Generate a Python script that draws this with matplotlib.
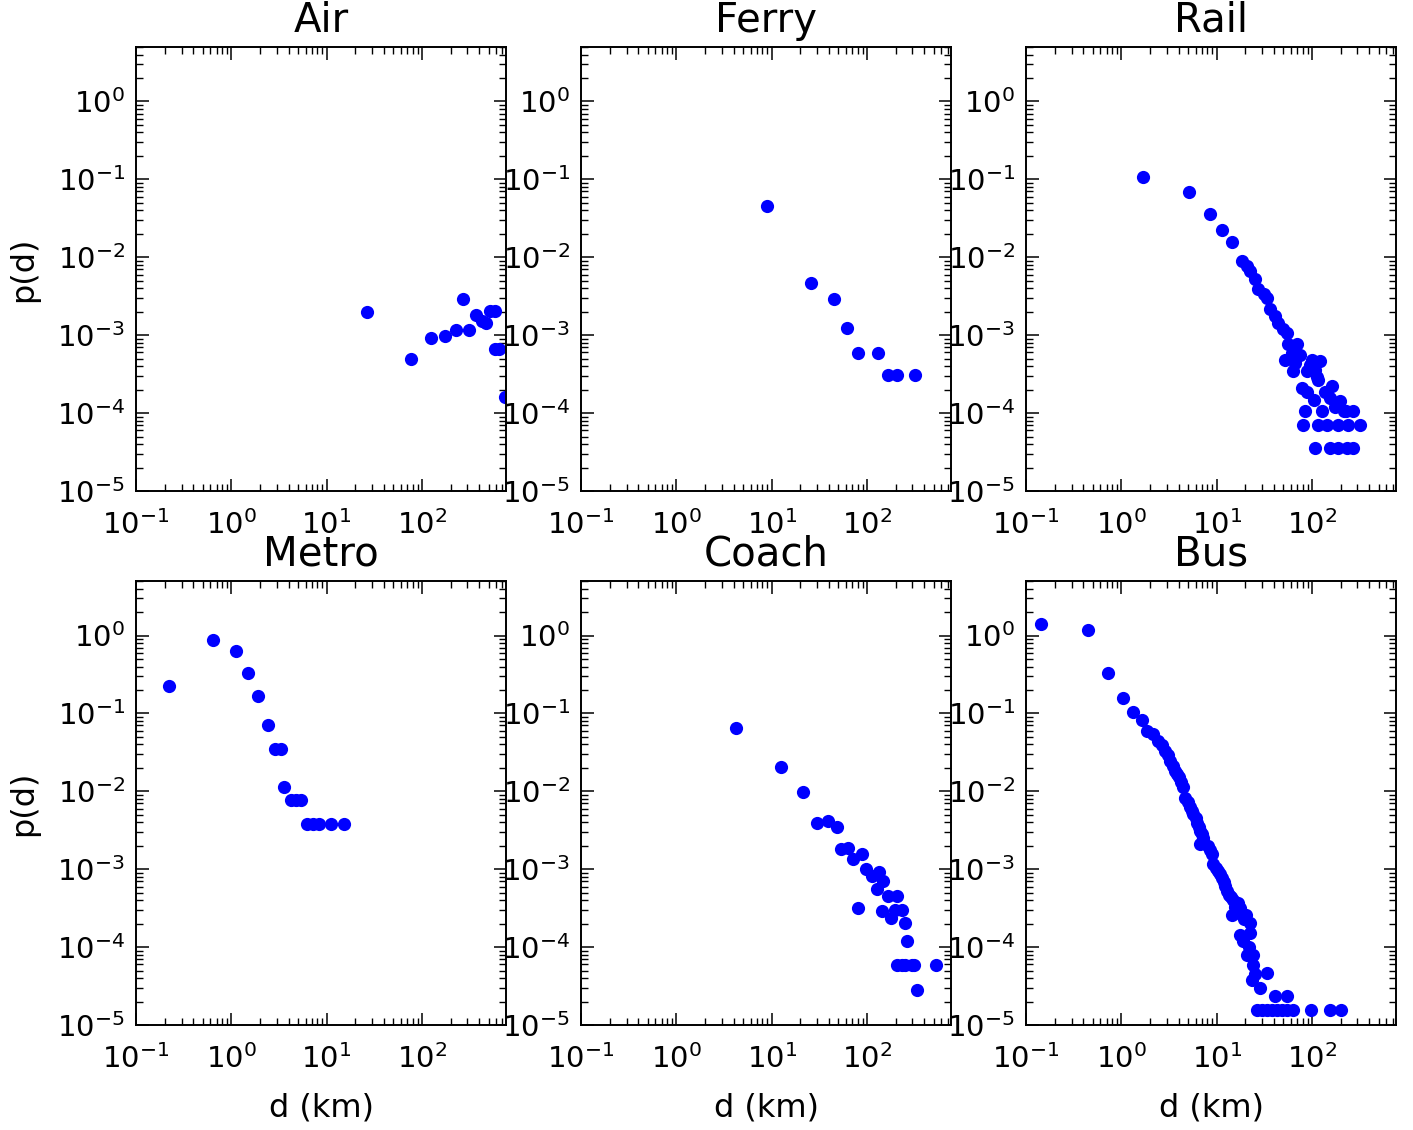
import matplotlib
matplotlib.use('Agg')
import matplotlib.pyplot as plt
from matplotlib.ticker import LogLocator

# distance distributions per mode (d in km, p(d))
air_d = [26.7, 76.9, 124, 175, 226, 272, 314, 366, 424, 471, 519, 585, 585, 649, 740]
air_p = [2.0e-3, 5.0e-4, 9.1e-4, 9.75e-4, 1.15e-3, 2.89e-3, 1.15e-3, 1.8e-3, 1.52e-3, 1.45e-3,
         2.05e-3, 2.05e-3, 6.7e-4, 6.7e-4, 1.6e-4]

ferry_d = [8.87, 26.1, 45.2, 61.4, 80.7, 132, 168, 207, 320]
ferry_p = [0.0461, 4.66e-3, 2.89e-3, 1.24e-3, 5.94e-4, 5.94e-4, 3.06e-4, 3.06e-4, 3.06e-4]

rail_d = [1.70, 5.06, 8.53, 11.3, 14.6, 18.3, 20.7, 22.4, 25.3, 27.4, 31.0, 33.5, 36.3, 41.0, 44.4,
          50.1, 54.3, 56.5, 69.2, 61.4, 75.0, 52.1, 66.4, 62.8, 99.5, 122, 88.3, 108, 117, 78.2,
          88.3, 104, 161, 137, 155, 197, 84.5, 126, 272, 230, 80.0, 117, 143, 189, 241, 320,
          108, 155, 189, 231, 272, 95.0, 112, 175, 215]
rail_p = [0.107, 0.0698, 0.0364, 0.0224, 0.0156, 9.0e-3, 7.8e-3, 6.7e-3, 5.24e-3, 3.89e-3, 3.4e-3,
          3.04e-3, 2.15e-3, 1.76e-3, 1.44e-3, 1.19e-3, 1.07e-3, 7.6e-4, 7.8e-4, 5.9e-4, 5.6e-4,
          4.85e-4, 4.4e-4, 3.43e-4, 4.85e-4, 4.6e-4, 3.43e-4, 3.6e-4, 2.68e-4, 2.09e-4, 1.89e-4,
          1.48e-4, 2.21e-4, 1.89e-4, 1.56e-4, 1.41e-4, 1.05e-4, 1.05e-4, 1.05e-4, 1.05e-4, 7.1e-5,
          7.1e-5, 7.1e-5, 7.1e-5, 7.1e-5, 7.1e-5, 3.55e-5, 3.55e-5, 3.55e-5, 3.55e-5, 3.55e-5,
          4.2e-4, 2.9e-4, 1.2e-4, 1.05e-4]

metro_d = [0.222, 0.647, 1.11, 1.49, 1.92, 2.44, 2.88, 3.33, 3.57, 4.2, 4.74, 5.35, 6.18, 7.14,
           8.26, 11.2, 15.2]
metro_p = [0.224, 0.871, 0.634, 0.33, 0.169, 0.072, 0.035, 0.035, 0.0112, 7.7e-3, 7.7e-3, 7.7e-3,
           3.77e-3, 3.77e-3, 3.77e-3, 3.77e-3, 3.77e-3]

coach_d = [4.27, 12.6, 21.5, 29.7, 38.8, 48.2, 53.8, 62.8, 72.0, 89.5, 80.0, 97.0, 112, 134, 126,
           149, 168, 205, 143, 179, 197, 231, 251, 261, 205, 231, 251, 294, 309, 527, 338]
coach_p = [0.0646, 0.0203, 9.9e-3, 3.97e-3, 4.18e-3, 3.49e-3, 1.84e-3, 1.89e-3, 1.34e-3, 1.55e-3,
           3.19e-4, 1.0e-3, 8.2e-4, 9.1e-4, 5.5e-4, 7.0e-4, 4.5e-4, 4.5e-4, 2.88e-4, 2.37e-4,
           3.03e-4, 3.03e-4, 2.04e-4, 1.21e-4, 5.93e-5, 5.93e-5, 5.93e-5, 5.93e-5, 5.93e-5, 5.93e-5,
           2.83e-5]

bus_d = [0.1435, 0.451, 0.731, 1.03, 1.32, 1.64, 1.85, 2.17, 2.44, 2.65, 2.88, 3.05, 3.24, 3.45,
         3.66, 3.85, 4.06, 4.25, 4.48, 4.66, 4.95, 5.26, 5.5, 5.70, 6.0, 6.18, 6.45, 6.70, 7.0,
         7.26, 6.70, 8.18, 8.5, 8.89, 9.23, 9.8, 10.4, 10.9, 11.3, 11.8, 12.3, 12.8, 13.3, 14.2,
         15.0, 15.6, 16.9, 14.4, 17.6, 18.3, 19.5, 20.5, 22.4, 17.6, 19.0, 22.4, 20.7, 22.0,
         24.3, 24.3, 23.3, 25.0, 33.5, 28.5, 40.9, 54.3, 26.3, 30.0, 33.5, 38.0, 42.7, 48.0,
         54.3, 63.8, 97.0, 155, 200]
bus_p = [1.40, 1.17, 0.33, 0.157, 0.104, 0.083, 0.060, 0.0546, 0.0448, 0.039, 0.0333, 0.029,
         0.0247, 0.021, 0.0184, 0.0166, 0.0151, 0.013, 0.0112, 8.3e-3, 7.2e-3, 6.2e-3, 5.6e-3,
         5.08e-3, 4.5e-3, 3.97e-3, 3.5e-3, 3.1e-3, 2.8e-3, 2.55e-3, 2.09e-3, 1.99e-3, 1.75e-3,
         1.55e-3, 1.15e-3, 1.05e-3, 9.5e-4, 8.6e-4, 7.8e-4, 6.9e-4, 6.1e-4, 5.3e-4, 4.7e-4,
         4.4e-4, 4.08e-4, 3.3e-4, 3.7e-4, 2.62e-4, 3.19e-4, 2.62e-4, 2.3e-4, 2.6e-4, 2.04e-4,
         1.45e-4, 1.2e-4, 1.52e-4, 7.98e-5, 1.0e-4, 7.98e-5, 5.93e-5, 3.8e-5, 4.5e-5, 4.63e-5,
         2.97e-5, 2.39e-5, 2.39e-5, 1.56e-5, 1.56e-5, 1.56e-5, 1.56e-5, 1.56e-5, 1.56e-5, 1.56e-5,
         1.56e-5, 1.56e-5, 1.56e-5, 1.56e-5]

titles = ['Air', 'Ferry', 'Rail', 'Metro', 'Coach', 'Bus']
xs = [air_d, ferry_d, rail_d, metro_d, coach_d, bus_d]
ys = [air_p, ferry_p, rail_p, metro_p, coach_p, bus_p]

plt.rcParams['mathtext.default'] = 'regular'
fig, axes = plt.subplots(2, 3, figsize=(14.13, 11.3), dpi=100)
fig.subplots_adjust(left=0.0963, right=0.988, top=0.9584, bottom=0.0929, wspace=0.203, hspace=0.203)

for i, ax in enumerate(axes.flat):
    ax.plot(xs[i], ys[i], 'o', color='b', ms=9.5, mew=0)
    ax.set_xscale('log')
    ax.set_yscale('log')
    ax.set_xlim(0.1, 762)
    ax.set_ylim(1e-5, 5)
    ax.xaxis.set_major_locator(LogLocator(base=10, numticks=10))
    ax.yaxis.set_major_locator(LogLocator(base=10, numticks=10))
    ax.tick_params(which='both', direction='in', top=True, right=True, labelsize=21)
    ax.tick_params(axis='x', which='both', pad=14)
    ax.tick_params(axis='y', which='both', pad=8)
    ax.tick_params(which='major', length=9, width=1.1)
    ax.tick_params(which='minor', length=5, width=1.0)
    for s in ax.spines.values():
        s.set_linewidth(1.4)
    ax.set_title(titles[i], fontsize=29, pad=11)
    if i % 3 == 0:
        ax.set_ylabel('p(d)', fontsize=23, labelpad=13)
    if i >= 3:
        ax.set_xlabel('d (km)', fontsize=23, labelpad=13)

fig.savefig('out.png', dpi=100)
